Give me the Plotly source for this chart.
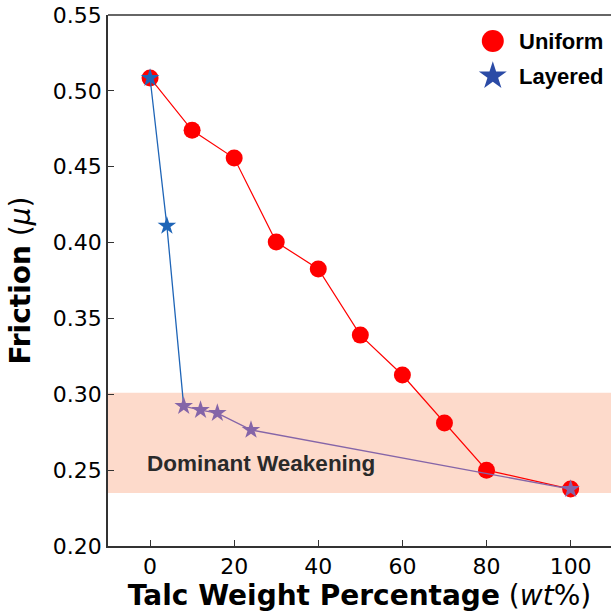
import plotly.graph_objects as go

# Friction vs talc content for uniform mixtures and layered samples
uniform_wt = [0, 10, 20, 30, 40, 50, 60, 70, 80, 100]
uniform_mu = [0.5085, 0.474, 0.4557, 0.4004, 0.3826, 0.339, 0.3127, 0.281, 0.250, 0.2375]

layered_wt = [0, 4, 8, 12, 16, 24, 100]
layered_mu = [0.5085, 0.411, 0.2922, 0.2896, 0.2876, 0.2765, 0.2375]

band_low, band_high = 0.235, 0.301
band_label = "Dominant Weakening"
legend_labels = ["Uniform", "Layered"]

x_ticks = [0, 20, 40, 60, 80, 100]
y_ticks = [0.20, 0.25, 0.30, 0.35, 0.40, 0.45, 0.50, 0.55]

RED = "#FF0000"
BLUE = "#1F65B7"
PURPLE = "#8565A8"
LEGEND_BLUE = "#2B4BA6"
BAND = "#FDDACB"

fig = go.Figure()

# uniform mixtures
fig.add_trace(go.Scatter(
    x=uniform_wt, y=uniform_mu, mode="lines+markers",
    line=dict(color=RED, width=1.2),
    marker=dict(symbol="circle", size=17, color=RED, opacity=1),
    showlegend=False, hoverinfo="skip",
))

# layered samples: blue above the weakening band, purple inside it
split = 2
fig.add_trace(go.Scatter(
    x=layered_wt[:split + 1], y=layered_mu[:split + 1], mode="lines",
    line=dict(color=BLUE, width=1.3), showlegend=False, hoverinfo="skip",
))
fig.add_trace(go.Scatter(
    x=layered_wt[split:], y=layered_mu[split:], mode="lines",
    line=dict(color=PURPLE, width=1.3), showlegend=False, hoverinfo="skip",
))
fig.add_trace(go.Scatter(
    x=layered_wt, y=layered_mu, mode="markers",
    marker=dict(symbol="star", size=14, opacity=1,
                color=[BLUE if i < split else PURPLE for i in range(len(layered_wt))],
                line=dict(width=0)),
    showlegend=False, hoverinfo="skip",
))

# legend key drawn on an overlay axis spanning the plot area (0..1)
key_x = [0.765, 0.765]
key_y = [0.951, 0.885]
fig.add_trace(go.Scatter(
    x=key_x, y=key_y, xaxis="x2", yaxis="y2", mode="markers",
    marker=dict(symbol=["circle", "star"], size=[22, 21], color=[RED, LEGEND_BLUE],
                opacity=1, line=dict(width=0)),
    showlegend=False, hoverinfo="skip",
))
for lbl, ky in zip(legend_labels, key_y):
    fig.add_annotation(x=0.813, y=ky, xref="x2", yref="y2", text="<b>" + lbl + "</b>",
                       showarrow=False, xanchor="left", yanchor="middle",
                       font=dict(family="Liberation Sans, Arial", size=22, color="black"))

# shaded weakening band
fig.add_shape(type="rect", xref="paper", x0=0, x1=1, yref="y",
              y0=band_low, y1=band_high, fillcolor=BAND, line=dict(width=0),
              layer="below")
# top frame line
fig.add_shape(type="line", xref="paper", x0=0, x1=1, yref="paper", y0=1, y1=1,
              line=dict(color="#333333", width=1.5))

fig.add_annotation(x=-1.3, y=0.2545, xref="x", yref="y", text="<b>" + band_label + "</b>",
                   showarrow=False, xanchor="left", yanchor="middle",
                   font=dict(family="Liberation Sans, Arial", size=22.5, color="#2a2a2a"))

fig.update_layout(
    width=611, height=615,
    margin=dict(l=108, r=0, t=15, b=69),
    paper_bgcolor="white", plot_bgcolor="white",
    font=dict(family="DejaVu Sans", color="black"),
    showlegend=False,
    xaxis=dict(
        range=[-10, 109.6], tickvals=x_ticks, ticks="inside", ticklen=6,
        tickwidth=1.2, tickcolor="#333333", showline=True, linecolor="#333333",
        linewidth=1.5, showgrid=False, zeroline=False,
        tickfont=dict(family="DejaVu Sans", size=22, color="black"),
        title=dict(text="<b>Talc Weight Percentage</b> (<i>wt</i>%)",
                   font=dict(family="DejaVu Sans", size=28, color="black"), standoff=6),
    ),
    yaxis=dict(
        range=[0.20, 0.55], tickvals=y_ticks, tickformat=".2f", ticks="inside",
        ticklen=6, tickwidth=1.2, tickcolor="#333333", showline=True,
        linecolor="#333333", linewidth=1.5, showgrid=False, zeroline=False,
        tickfont=dict(family="DejaVu Sans", size=22, color="black"),
        title=dict(text="<b>Friction</b> (<i>μ</i>)",
                   font=dict(family="DejaVu Sans", size=28, color="black"), standoff=14),
    ),
    xaxis2=dict(overlaying="x", range=[0, 1], visible=False, fixedrange=True),
    yaxis2=dict(overlaying="y", range=[0, 1], visible=False, fixedrange=True),
)

fig.write_html("out.html")
